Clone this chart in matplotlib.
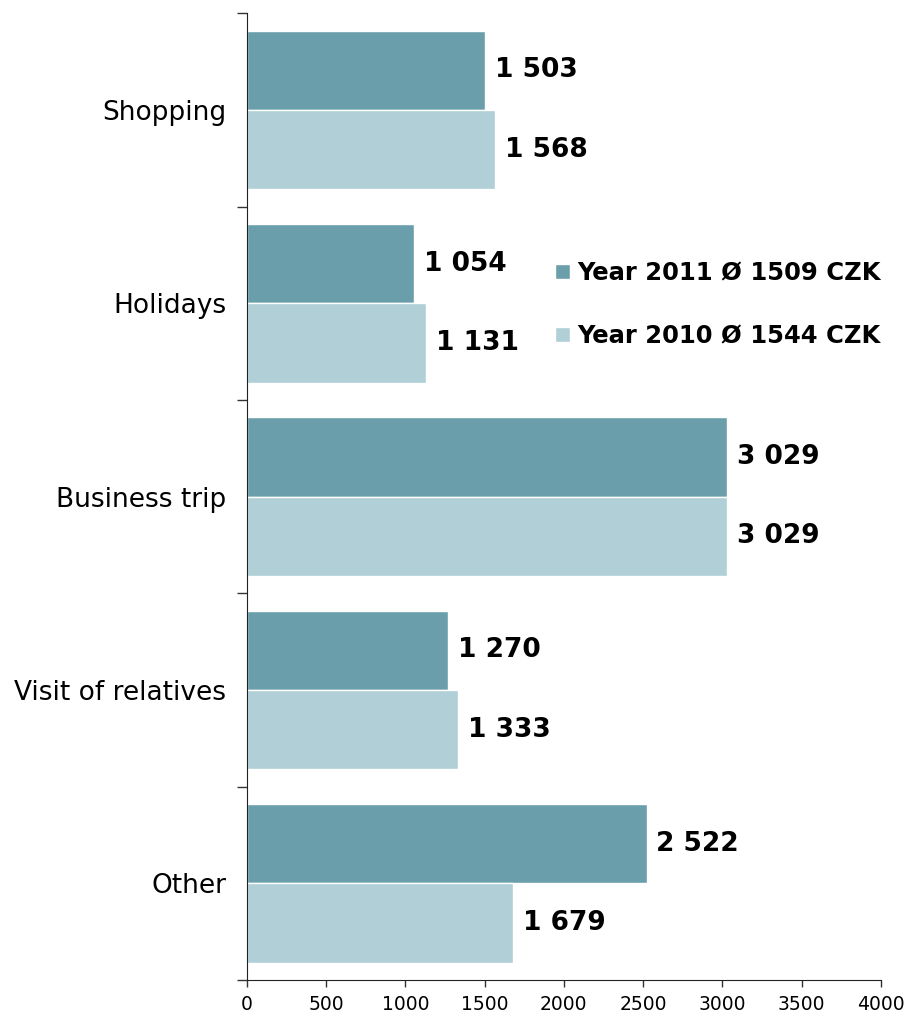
import numpy as np
import matplotlib
matplotlib.use("Agg")
import matplotlib.pyplot as plt
from matplotlib.ticker import FixedLocator

categories = ["Shopping", "Holidays", "Business trip", "Visit of relatives", "Other"]
y2011 = [1503, 1054, 3029, 1270, 2522]
y2010 = [1568, 1131, 3029, 1333, 1679]
label2011 = "Year 2011 Ø 1509 CZK"
label2010 = "Year 2010 Ø 1544 CZK"

c2011 = "#6a9eab"
c2010 = "#b0cfd6"

plt.rcParams['font.family'] = ['DejaVu Sans']

fig = plt.figure(figsize=(9.08, 10.22), dpi=100)
ax = fig.add_axes([0.272, 0.041, 0.698, 0.946])

pos = np.arange(len(categories))
h = 0.41
b1 = ax.barh(pos - h/2, y2011, height=h, color=c2011, edgecolor="white", linewidth=1, label=label2011)
b2 = ax.barh(pos + h/2, y2010, height=h, color=c2010, edgecolor="white", linewidth=1, label=label2010)

fmt = lambda v: f"{v:,.0f}".replace(",", " ")
ax.bar_label(b1, labels=[fmt(v) for v in y2011], padding=7, fontsize=19, fontweight="bold")
ax.bar_label(b2, labels=[fmt(v) for v in y2010], padding=7, fontsize=19, fontweight="bold")

ax.set_xlim(0, 4000)
ax.set_ylim(len(categories) - 0.5, -0.5)
ax.set_xticks(np.arange(0, 4001, 500))
ax.set_yticks(pos)
ax.set_yticklabels(categories, fontsize=19)
ax.yaxis.set_minor_locator(FixedLocator(np.arange(-0.5, len(categories), 1)))
ax.tick_params(axis="y", which="major", length=0, pad=15)
ax.tick_params(axis="y", which="minor", length=7, width=1, color="#333333")
ax.tick_params(axis="x", length=5, width=1, labelsize=13.5, pad=6, color="#333333")

for s in ["top", "right"]:
    ax.spines[s].set_visible(False)
ax.spines["left"].set_color("#222222")
ax.spines["bottom"].set_color("#222222")

ax.legend(loc="center left", bbox_to_anchor=(0.486, 0.6985), frameon=False,
          prop={"weight": "bold", "size": 17.5}, handlelength=0.6, handleheight=0.6,
          handletextpad=0.3, labelspacing=1.6, borderaxespad=0, borderpad=0)

fig.savefig("out.png", dpi=100)
